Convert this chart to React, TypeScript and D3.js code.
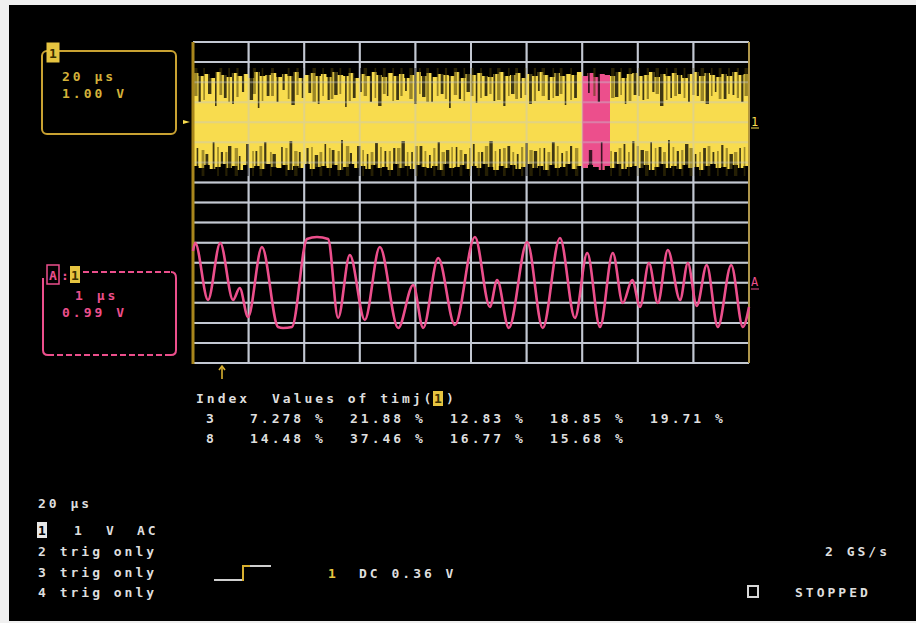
import React from "react";
import * as d3 from "d3";

// ---------- data ----------
// Channel 1 (20 µs/div, 1.00 V/div): noisy envelope, sampled every 0.1 div
const ch1Top = [2.45,2.3,2.4,2.2,2.5,2.35,2.25,2.45,2.3,2.4,
  2.2,2.5,2.3,2.35,2.45,2.25,2.4,2.3,2.5,2.2,
  2.35,2.45,2.3,2.4,2.25,2.5,2.35,2.3,2.45,2.2,
  2.4,2.3,2.5,2.35,2.25,2.45,2.3,2.4,2.2,2.35,
  2.5,2.3,2.45,2.25,2.4,2.35,2.3,2.5,2.2,2.4,
  2.35,2.45,2.3,2.25,2.4,2.5,2.3,2.35,2.45,2.2,
  2.4,2.3,2.5,2.35,2.25,2.45,2.3,2.4,2.35,2.5,
  2.3,2.45,2.25,2.4,2.35,2.3,2.5,2.2,2.4,2.45,
  2.3,2.35,2.5,2.25,2.4,2.3,2.45,2.35,2.2,2.4,
  2.5,2.3,2.45,2.35,2.25,2.4,2.3,2.5,2.35,2.4,2.3];
const ch1Bottom = [-2.2,-2.3,-2.15,-2.35,-2.25,-2.1,-2.3,-2.2,-2.4,-2.15,
  -2.3,-2.2,-2.35,-2.1,-2.25,-2.3,-2.15,-2.4,-2.2,-2.3,
  -2.1,-2.35,-2.25,-2.2,-2.3,-2.15,-2.4,-2.25,-2.1,-2.3,
  -2.2,-2.35,-2.15,-2.3,-2.25,-2.4,-2.1,-2.3,-2.2,-2.35,
  -2.15,-2.25,-2.3,-2.2,-2.4,-2.1,-2.3,-2.25,-2.15,-2.35,
  -2.2,-2.3,-2.1,-2.25,-2.4,-2.2,-2.3,-2.15,-2.35,-2.25,
  -2.1,-2.3,-2.2,-2.4,-2.15,-2.3,-2.25,-2.1,-2.35,-2.2,
  -2.3,-2.15,-2.25,-2.4,-2.2,-2.3,-2.1,-2.35,-2.25,-2.2,
  -2.3,-2.15,-2.4,-2.25,-2.1,-2.3,-2.2,-2.35,-2.15,-2.3,
  -2.25,-2.4,-2.2,-2.1,-2.3,-2.25,-2.35,-2.15,-2.3,-2.2,-2.25];
// dark gaps reaching into the envelope: [time (div), level reached (V)]
const ch1TopGaps = [[0.12,1.0],[0.3,1.4],[0.41,0.8],[0.58,1.2],[0.72,0.9],[0.9,1.5],[1.05,1.1],[1.18,0.7],
  [1.35,1.3],[1.52,1.0],[1.63,1.6],[1.8,0.85],[1.97,1.2],[2.1,1.45],[2.26,0.9],[2.44,1.1],[2.57,1.35],
  [2.75,0.75],[2.9,1.2],[3.02,1.5],[3.2,1.0],[3.36,0.8],[3.5,1.3],[3.68,1.1],[3.83,1.55],[4.0,0.9],
  [4.15,1.25],[4.3,1.0],[4.48,1.4],[4.62,0.7],[4.8,1.15],[4.95,1.5],[5.1,0.95],[5.27,1.3],[5.42,1.05],
  [5.6,0.8],[5.75,1.4],[5.9,1.2],[6.07,0.9],[6.22,1.55],[6.4,1.1],[6.55,1.3],[6.7,0.85],[6.88,1.2],
  [7.12,1.45],[7.3,1.0],[7.62,1.25],[7.78,0.9],[7.95,1.35],[8.1,1.1],[8.28,1.5],[8.43,0.8],[8.6,1.2],
  [8.75,1.4],[8.92,1.0],[9.08,1.3],[9.25,0.9],[9.4,1.5],[9.57,1.15],[9.72,1.35],[9.88,1.0]];
const ch1BottomGaps = [[0.08,-1.3],[0.25,-1.6],[0.37,-1.0],[0.52,-1.5],[0.66,-1.2],[0.84,-1.7],[0.98,-1.1],
  [1.14,-1.45],[1.3,-1.0],[1.46,-1.6],[1.6,-1.25],[1.76,-0.95],[1.92,-1.5],[2.06,-1.3],[2.22,-1.65],
  [2.38,-1.1],[2.52,-1.4],[2.68,-0.9],[2.84,-1.55],[2.98,-1.2],[3.14,-1.6],[3.3,-1.05],[3.46,-1.45],
  [3.62,-1.3],[3.78,-0.95],[3.94,-1.5],[4.1,-1.2],[4.26,-1.65],[4.42,-1.0],[4.58,-1.4],[4.74,-1.25],
  [4.9,-1.6],[5.05,-1.1],[5.2,-1.5],[5.36,-0.95],[5.52,-1.35],[5.68,-1.2],[5.84,-1.6],[6.0,-1.05],
  [6.16,-1.45],[6.32,-1.3],[6.48,-1.0],[6.64,-1.55],[6.8,-1.2],[7.15,-1.4],[7.35,-1.0],[7.6,-1.5],
  [7.76,-1.1],[7.92,-0.95],[8.08,-1.4],[8.24,-1.0],[8.4,-1.25],[8.56,-0.9],[8.72,-1.45],[8.88,-1.1],
  [9.04,-1.6],[9.2,-1.3],[9.36,-1.5],[9.52,-1.15],[9.68,-1.6],[9.84,-1.3]];
// dimmer (olive) streaks in the outer parts of the envelope: [time (div), level reached (V)]
const ch1TopDim = [[0.05,1.3],[0.2,1.1],[0.5,1.35],[0.65,1.0],[0.8,1.25],[1.1,1.4],[1.25,1.05],[1.43,1.3],
  [1.72,1.15],[1.88,1.35],[2.18,1.0],[2.34,1.3],[2.5,1.15],[2.65,1.4],[2.82,1.05],[3.1,1.3],[3.28,1.2],
  [3.44,1.4],[3.6,1.05],[3.75,1.3],[3.92,1.15],[4.08,1.4],[4.22,1.0],[4.4,1.3],[4.55,1.15],[4.72,1.35],
  [4.88,1.05],[5.02,1.3],[5.18,1.2],[5.35,1.4],[5.5,1.1],[5.68,1.3],[5.82,1.15],[5.98,1.35],[6.15,1.05],
  [6.3,1.3],[6.48,1.2],[6.62,1.4],[6.8,1.1],[7.22,1.3],[7.55,1.2],[7.7,1.35],[7.86,1.05],[8.02,1.3],
  [8.18,1.15],[8.35,1.4],[8.52,1.1],[8.68,1.3],[8.84,1.2],[9.0,1.35],[9.16,1.05],[9.33,1.3],[9.48,1.15],
  [9.64,1.4],[9.8,1.2],[9.95,1.3]];
const ch1BottomDim = [[0.18,-1.4],[0.45,-1.25],[0.6,-1.5],[0.78,-1.3],[1.08,-1.45],[1.22,-1.2],[1.4,-1.5],
  [1.68,-1.3],[1.85,-1.45],[2.14,-1.25],[2.3,-1.5],[2.46,-1.3],[2.62,-1.45],[2.78,-1.2],[3.06,-1.4],
  [3.22,-1.5],[3.38,-1.25],[3.54,-1.45],[3.7,-1.3],[3.86,-1.5],[4.02,-1.2],[4.18,-1.45],[4.34,-1.3],
  [4.5,-1.5],[4.66,-1.25],[4.82,-1.4],[4.98,-1.3],[5.14,-1.5],[5.28,-1.2],[5.44,-1.45],[5.6,-1.3],
  [5.76,-1.5],[5.92,-1.25],[6.08,-1.4],[6.24,-1.3],[6.4,-1.5],[6.56,-1.2],[6.72,-1.45],[6.9,-1.3],
  [7.52,-1.45],[7.68,-1.3],[7.84,-1.5],[8.0,-1.2],[8.16,-1.45],[8.32,-1.3],[8.48,-1.5],[8.64,-1.25],
  [8.8,-1.4],[8.96,-1.3],[9.12,-1.5],[9.28,-1.2],[9.44,-1.45],[9.6,-1.3],[9.76,-1.5],[9.92,-1.25]];
const ch1Highlight = [7.0, 7.5];

// Zoom trace A (1 µs/div, 0.99 V/div): [time (div), value (div)]
const traceA = [[0.0,1.6],[0.04,2.0],[0.27,-0.85],[0.49,2.0],[0.72,-0.85],[0.84,-0.25],[0.99,-1.7],
  [1.24,1.8],[1.53,-2.2],[1.62,-2.25],[1.78,-2.2],[2.05,2.2],[2.23,2.3],[2.43,2.2],[2.61,-1.75],
  [2.82,1.4],[3.09,-1.85],[3.36,1.8],[3.69,-2.25],[3.96,-0.1],[4.14,-2.25],[4.41,1.25],[4.71,-2.1],
  [5.07,2.3],[5.34,-1.2],[5.47,0.15],[5.68,-2.25],[6.01,2.05],[6.29,-2.25],[6.6,2.25],[6.87,-1.75],
  [7.09,1.5],[7.32,-2.2],[7.55,1.5],[7.73,-1.0],[7.9,0.15],[8.04,-1.2],[8.2,1.0],[8.36,-1.0],
  [8.54,1.65],[8.76,-0.85],[8.9,1.0],[9.06,-1.15],[9.24,0.9],[9.44,-2.2],[9.68,0.9],[9.89,-2.2],[10.0,-1.2]];

const tableHeader = ["Index", "Values of timj("];
const tableIndex = ["3", "8"];
const tableRow3 = ["7.278", "21.88", "12.83", "18.85", "19.71"];
const tableRow8 = ["14.48", "37.46", "16.77", "15.68"];
const channelLines = ["2 trig only", "3 trig only", "4 trig only"];

// ---------- styling ----------
const YEL = "#f8dc4e";
const AMBER = "#c9a232";
const PINK = "#ec4f8c";
const GRID = "#c3c8d2";
const TXT = "#dedede";
const FONT = "'DejaVu Sans Mono', monospace";
const GAPW = [2.2, 3.4, 1.6, 2.8, 1.8];

export default function App() {
  const x = d3.scaleLinear().domain([0, 10]).range([193, 749]);
  const y1 = d3.scaleLinear().domain([-4, 4]).range([202, 42]);
  const yA = d3.scaleLinear().domain([-4, 4]).range([363, 203]);
  const gy = d3.scaleLinear().domain([0, 16]).range([42, 363]);
  const col = d3.scaleLinear().domain([0, 4]).range([250, 650]);

  const env = ch1Top.map((t, i) => ({ t: i * 0.1, top: t, bot: ch1Bottom[i] }));
  const area = d3.area<any>()
    .x((d) => x(d.t)).y0((d) => y1(d.bot)).y1((d) => y1(d.top))
    .curve(d3.curveStepAfter);
  const line = d3.line<number[]>().x((d) => x(d[0])).y((d) => yA(d[1])).curve(d3.curveMonotoneX);

  const vTicks = d3.range(11);
  const hTicks = d3.range(17);
  const grid = (op: number) => (
    <g opacity={op} stroke={GRID} strokeWidth={2}>
      {vTicks.map((v) => <line key={"v" + v} x1={x(v)} x2={x(v)} y1={gy(0)} y2={gy(16)} />)}
      {hTicks.map((h) => <line key={"h" + h} x1={x(0)} x2={x(10)} y1={gy(h)} y2={gy(h)} />)}
    </g>
  );
  const txt = { fontFamily: FONT, fontSize: 13, letterSpacing: 3, fontWeight: 700 } as any;
  const streaks = (arr: number[][], from: number, color: string, op: number, key: string, wOff: number) =>
    arr.map((g, i) => (
      <line key={key + i} x1={x(g[0])} x2={x(g[0])} y1={y1(from)} y2={y1(g[1])}
        stroke={color} strokeOpacity={op} strokeWidth={GAPW[(i + wOff) % GAPW.length]} />
    ));

  return (
    <div style={{ position: "fixed", left: 0, top: 0 }}>
      <svg width={916} height={623} style={{ display: "block" }}>
        <defs>
          <clipPath id="hl">
            <rect x={x(ch1Highlight[0])} y={40} width={x(ch1Highlight[1]) - x(ch1Highlight[0])} height={170} />
          </clipPath>
          <clipPath id="plot">
            <rect x={x(0)} y={40} width={x(10) - x(0)} height={330} />
          </clipPath>
        </defs>
        <rect width={916} height={623} fill="#f0f0f0" />
        <rect x={9} y={5} width={907} height={616} fill="#000" />

        {grid(1)}

        {/* channel 1 trace */}
        <g clipPath="url(#plot)">
          <path d={area(env) || ""} fill={YEL} />
          <path d={area(env) || ""} fill={PINK} clipPath="url(#hl)" />
          {streaks(ch1TopDim, 2.7, "#4a3e08", 0.55, "td", 1)}
          {streaks(ch1BottomDim, -2.7, "#4a3e08", 0.5, "bd", 3)}
          {streaks(ch1TopGaps, 2.7, "#000", 0.75, "tg", 0)}
          {streaks(ch1BottomGaps, -2.7, "#000", 0.75, "bg", 2)}
        </g>
        {grid(0.4)}

        {/* borders */}
        <line x1={x(0)} x2={x(0)} y1={gy(0)} y2={gy(16) + 1} stroke="#a8861c" strokeWidth={3} />
        <line x1={x(10)} x2={x(10)} y1={gy(0)} y2={gy(16)} stroke="#a8861c" strokeWidth={1.5} />

        {/* zoom trace A */}
        <path d={line(traceA as any) || ""} fill="none" stroke={PINK} strokeWidth={2.6} strokeLinejoin="round" />

        {/* markers */}
        <path d={`M${x(0) - 10},${y1(0) - 2} L${x(0) - 3},${y1(0)} L${x(0) - 10},${y1(0) + 2} Z`} fill={YEL} />
        <text x={751} y={126} fill={YEL} style={{ fontFamily: FONT, fontSize: 12 }}>1</text>
        <line x1={751} x2={759} y1={128} y2={128} stroke={YEL} strokeWidth={1} />
        <text x={751} y={286} fill={PINK} style={{ fontFamily: FONT, fontSize: 12 }}>A</text>
        <line x1={751} x2={759} y1={289} y2={289} stroke={PINK} strokeWidth={1} />
        <g stroke="#d8b030" strokeWidth={1.6} fill="none">
          <line x1={222} x2={222} y1={366} y2={379} />
          <path d="M219,370 L222,366 L225,370" />
        </g>

        {/* channel 1 box */}
        <rect x={42} y={51} width={134} height={83} rx={5} fill="none" stroke={AMBER} strokeWidth={2} />
        <rect x={47} y={43} width={12} height={19} fill="#e6c440" stroke="#e6c440" strokeWidth={1} />
        <text x={49} y={58} fill="#3a3000" style={{ fontFamily: FONT, fontSize: 13, fontWeight: 700 }}>1</text>
        <text x={62} y={81} fill="#d4b23a" style={txt}>20 μs</text>
        <text x={62} y={98} fill="#d4b23a" style={txt}>1.00 V</text>

        {/* zoom A box */}
        <g stroke={PINK} strokeWidth={2} fill="none">
          <path d="M43,278 L43,350 Q43,355 48,355" />
          <path d="M176,278 Q176,272 171,272" />
          <path d="M176,278 L176,350 Q176,355 171,355" />
          <line x1={83} x2={170} y1={272} y2={272} strokeDasharray="6,3" />
          <line x1={48} x2={171} y1={355} y2={355} strokeDasharray="6,3" />
        </g>
        <rect x={47} y={265} width={12} height={19} fill="#000" stroke={PINK} strokeWidth={1.5} />
        <text x={49} y={280} fill={PINK} style={{ fontFamily: FONT, fontSize: 13, fontWeight: 700 }}>A</text>
        <text x={61} y={280} fill={PINK} style={{ fontFamily: FONT, fontSize: 13, fontWeight: 700 }}>:</text>
        <rect x={70} y={266} width={10} height={17} fill="#e6c440" />
        <text x={71} y={280} fill="#3a3000" style={{ fontFamily: FONT, fontSize: 13, fontWeight: 700 }}>1</text>
        <text x={75} y={300} fill={PINK} style={txt}>1 μs</text>
        <text x={62} y={317} fill={PINK} style={txt}>0.99 V</text>

        {/* table */}
        <text x={196} y={403} fill={TXT} style={txt}>{tableHeader[0]}</text>
        <text x={272} y={403} fill={TXT} style={txt}>{tableHeader[1]}</text>
        <rect x={433} y={391} width={10} height={15} fill="#e6c440" />
        <text x={434} y={403} fill="#3a3000" style={{ fontFamily: FONT, fontSize: 13, fontWeight: 700 }}>1</text>
        <text x={446} y={403} fill={TXT} style={txt}>)</text>
        <text x={206} y={423} fill={TXT} style={txt}>{tableIndex[0]}</text>
        <text x={206} y={443} fill={TXT} style={txt}>{tableIndex[1]}</text>
        {tableRow3.map((v, i) => (
          <text key={"r3" + i} x={col(i)} y={423} fill={TXT} style={txt}>{v + " %"}</text>
        ))}
        {tableRow8.map((v, i) => (
          <text key={"r8" + i} x={col(i)} y={443} fill={TXT} style={txt}>{v + " %"}</text>
        ))}

        {/* bottom status */}
        <text x={38} y={508} fill={TXT} style={txt}>20 μs</text>
        <rect x={37} y={522} width={10} height={16} fill="#e8e8e8" />
        <text x={38} y={535} fill="#000" style={{ fontFamily: FONT, fontSize: 13, fontWeight: 700 }}>1</text>
        <text x={74} y={535} fill={TXT} style={txt}>1</text>
        <text x={106} y={535} fill={TXT} style={txt}>V</text>
        <text x={137} y={535} fill={TXT} style={txt}>AC</text>
        {channelLines.map((s, i) => (
          <text key={"cl" + i} x={38} y={556 + i * 20.5} fill={TXT} style={txt}>{s}</text>
        ))}
        <g fill="none" strokeWidth={2}>
          <path d="M214,580 L242,580" stroke="#cfcfcf" />
          <path d="M243,581 L243,566 L250,566" stroke="#d8b030" />
          <path d="M250,566 L271,566" stroke="#cfcfcf" />
        </g>
        <text x={328} y={578} fill="#e6c440" style={txt}>1</text>
        <text x={359} y={578} fill={TXT} style={txt}>DC 0.36 V</text>
        <text x={890} y={556} fill={TXT} textAnchor="end" style={txt}>2 GS/s</text>
        <rect x={748} y={586} width={10} height={11} fill="none" stroke="#d8d8d8" strokeWidth={2} />
        <text x={795} y={597} fill={TXT} style={txt}>STOPPED</text>
      </svg>
    </div>
  );
}
